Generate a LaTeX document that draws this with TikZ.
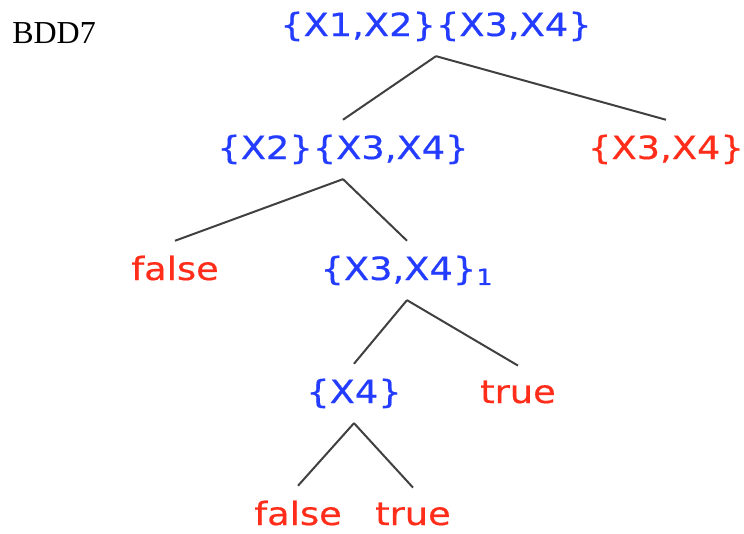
\documentclass[tikz,border=0pt]{standalone}
\usepackage{fontspec}
\newfontfamily\treefont{DejaVu Sans}[FakeStretch=1.15, FakeBold=0.4]
\newfontfamily\titlefont{Liberation Serif}
\definecolor{bddblue}{RGB}{35,60,255}
\definecolor{bddred}{RGB}{255,45,25}
\tikzset{
  lbl/.style={anchor=base, inner xsep=0pt, inner ysep=11pt, font=\treefont\fontsize{24}{28}\selectfont},
  var/.style={lbl, text=bddblue},
  leaf/.style={lbl, text=bddred},
  arc/.style={draw=black!75, line width=1.5pt}
}

\begin{document}
\begin{tikzpicture}[x=0.75pt, y=-0.75pt]
\useasboundingbox (0,0) rectangle (744,533);
\node[anchor=base west, inner sep=0pt, font=\titlefont\fontsize{24}{28}\selectfont] (title) at (12,43) {BDD7};

\node[var] (r) at (436,36) {\{X1,X2\}\{X3,X4\}};
\node[var] (x2) at (343,159) {\{X2\}\{X3,X4\}};
\node[leaf] (x34) at (666,159) {\{X3,X4\}};
\node[leaf] (f1) at (175,280) {false};
\node[var] (y34) at (407,280) {\{X3,X4\}\textsubscript{1}};
\node[var] (x4) at (354,403) {\{X4\}};
\node[leaf] (t1) at (518,403) {true};
\node[leaf] (f2) at (298,525) {false};
\node[leaf] (t2) at (413,525) {true};

\foreach \a/\b in {r/x2, r/x34, x2/f1, x2/y34, y34/x4, y34/t1, x4/f2, x4/t2}{
	\draw[arc] (\a.south) -- (\b.north);
}
\end{tikzpicture}
\end{document}
